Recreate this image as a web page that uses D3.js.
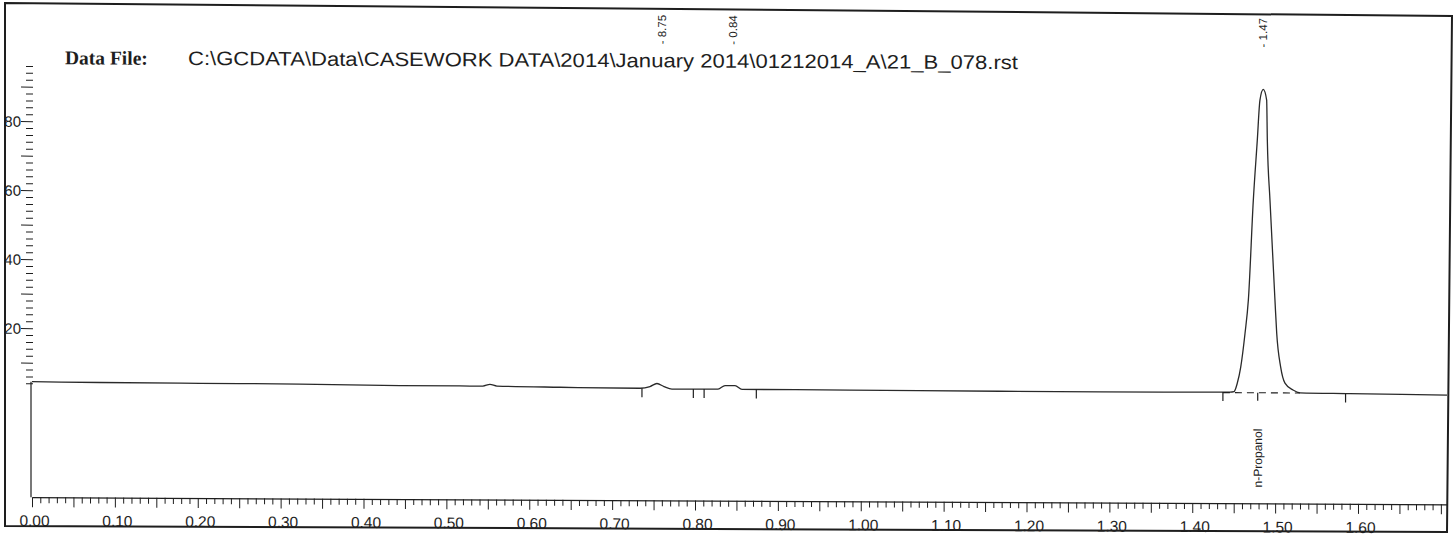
<!DOCTYPE html>
<html>
<head>
<meta charset="utf-8">
<script src="https://cdn.jsdelivr.net/npm/d3@7"></script>
<style>
body { margin: 0; background: #fff; }
</style>
</head>
<body>
<div id="chart-area"></div>
<script>
// chromatogram trace (minutes, signal)
var times = [0.000, 0.082, 0.203, 0.323, 0.444, 0.5285, 0.544, 0.5526, 0.561, 0.637,
    0.7336, 0.7457, 0.7541, 0.7626, 0.7722, 0.8278, 0.8362, 0.8483, 0.8567, 0.987,
    1.168, 1.2887, 1.4456, 1.4504, 1.4544, 1.4585, 1.4637, 1.4677, 1.4737, 1.4785,
    1.4817, 1.4857, 1.4898, 1.4906, 1.4938, 1.4998, 1.5019, 1.5067, 1.5119, 1.5216,
    1.530, 1.590, 1.7074];
var signal = [4.48, 4.35, 4.26, 4.20, 3.91, 3.87, 3.88, 4.39, 3.91, 3.65,
    3.48, 3.99, 4.87, 4.00, 3.29, 3.36, 4.38, 4.40, 3.30, 3.26,
    3.13, 3.10, 3.23, 3.38, 5.86, 10.5, 20.3, 29.9, 58.9, 76.3,
    87.9, 91.0, 87.9, 76.3, 58.9, 29.97, 20.4, 10.55, 5.91, 3.91,
    3.13, 2.97, 2.67];

// integration marks under the baseline
var markerTimes = [0.736, 0.798, 0.811, 0.874, 1.437, 1.585];
var markerLevels = [3.48, 3.33, 3.33, 3.30, 3.22, 2.96];

// peak retention labels on top
var peakTimes = [0.760, 0.846, 1.485];
var peakLabels = ["8.75", "0.84", "1.47"];

// named compound
var compoundTime = 1.479;
var compoundLevel = 3.07;
var compoundName = "n-Propanol";
var dashTimes = [1.437, 1.530];

var xTickLabels = ["0.00", "0.10", "0.20", "0.30", "0.40", "0.50", "0.60", "0.70", "0.80",
    "0.90", "1.00", "1.10", "1.20", "1.30", "1.40", "1.50", "1.60"];
var yTickLabels = [20, 40, 60, 80];

var width = 1456;
var height = 536;
var axisY = 497;
var ink = "#1e1e1e";

var svg = d3.select("#chart-area")
    .append("svg")
    .attr("width", width)
    .attr("height", height);

// page frame (scanned, slightly skewed)
svg.append("polygon")
    .attr("points", "5,3 1452,16 1447,532 5,526")
    .attr("fill", "none")
    .attr("stroke", ink)
    .attr("stroke-width", 2);

var g = svg.append("g")
    .attr("transform", "skewY(0.29)");

var x = d3.scaleLinear().domain([0, 1.7074]).range([32, 1447]);
var y = d3.scaleLinear().domain([0, 80]).range([397, 121]);

// title
var title = g.append("text")
    .attr("x", 65)
    .attr("y", 64)
    .attr("fill", ink);
title.append("tspan")
    .attr("font-family", "Liberation Serif")
    .attr("font-weight", "bold")
    .attr("font-size", "19.5px")
    .text("Data File:");
g.append("text")
    .attr("x", 188)
    .attr("y", 64)
    .attr("font-family", "Liberation Sans")
    .attr("font-size", "19.5px")
    .attr("fill", ink)
    .attr("textLength", 830)
    .attr("lengthAdjust", "spacingAndGlyphs")
    .text("C:\\GCDATA\\Data\\CASEWORK DATA\\2014\\January 2014\\01212014_A\\21_B_078.rst");

// x axis
var xTicks = d3.range(0, 171).map((i) => { return i / 100; });
var xAxisCall = d3.axisBottom(x)
    .tickValues(xTicks)
    .tickSize(6)
    .tickSizeOuter(0)
    .tickFormat((d) => {
        var s = d.toFixed(2);
        return xTickLabels.indexOf(s) >= 0 ? s : "";
    });
var xAxisGroup = g.append("g")
    .attr("class", "x axis")
    .attr("transform", "translate(0, " + axisY + ")")
    .call(xAxisCall);
xAxisGroup.select(".domain").attr("stroke", ink).attr("stroke-width", 1.3);
xAxisGroup.selectAll(".tick line")
    .attr("stroke", ink)
    .attr("y2", (d) => { return Math.round(d * 100) % 5 === 0 ? 10 : 6; });
xAxisGroup.selectAll(".tick text")
    .attr("y", 29)
    .attr("dy", 0)
    .attr("dx", 2)
    .style("font-family", "Liberation Sans")
    .style("font-size", "15.5px")
    .style("fill", ink);

// y axis
var yTicks = d3.range(4, 97, 2);
var yAxisCall = d3.axisLeft(y)
    .tickValues(yTicks)
    .tickSize(7)
    .tickFormat((d) => { return yTickLabels.indexOf(d) >= 0 ? d : ""; });
var yAxisGroup = g.append("g")
    .attr("class", "y axis")
    .attr("transform", "translate(33, 0)")
    .call(yAxisCall);
yAxisGroup.select(".domain").remove();
yAxisGroup.selectAll(".tick line")
    .attr("stroke", ink)
    .attr("x2", (d) => { return d % 10 === 0 ? -12 : -7; });
yAxisGroup.selectAll(".tick text")
    .attr("x", -12)
    .attr("dy", "0.34em")
    .style("font-family", "Liberation Sans")
    .style("font-size", "15px")
    .style("fill", ink);

// start line from trace down to the time axis
g.append("line")
    .attr("x1", 31).attr("x2", 31)
    .attr("y1", y(signal[0]))
    .attr("y2", axisY)
    .attr("stroke", ink)
    .attr("stroke-width", 1.2);

// trace
var line = d3.line()
    .x((d) => { return x(d[0]); })
    .y((d) => { return y(d[1]); })
    .curve(d3.curveMonotoneX);
g.append("path")
    .datum(times.map((t, i) => { return [t, signal[i]]; }))
    .attr("d", line)
    .attr("fill", "none")
    .attr("stroke", "#2a2a2a")
    .attr("stroke-width", 1.3);

// integration marks
g.selectAll(".marker")
    .data(markerTimes)
    .enter().append("line")
    .attr("class", "marker")
    .attr("x1", (d) => { return x(d); })
    .attr("x2", (d) => { return x(d); })
    .attr("y1", (d, i) => { return y(markerLevels[i]); })
    .attr("y2", (d, i) => { return y(markerLevels[i]) + 9; })
    .attr("stroke", ink)
    .attr("stroke-width", 1.2);

// dashed baseline under the big peak, with retention mark
g.append("line")
    .attr("x1", x(dashTimes[0]))
    .attr("x2", x(dashTimes[1]))
    .attr("y1", y(compoundLevel))
    .attr("y2", y(compoundLevel))
    .attr("stroke", ink)
    .attr("stroke-width", 1.1)
    .attr("stroke-dasharray", "7,5");
g.append("line")
    .attr("x1", x(compoundTime))
    .attr("x2", x(compoundTime))
    .attr("y1", y(compoundLevel))
    .attr("y2", y(compoundLevel) + 8)
    .attr("stroke", ink)
    .attr("stroke-width", 1.2);

g.append("text")
    .attr("transform", "translate(" + x(compoundTime) + "," + 481 + ") rotate(-90)")
    .attr("dy", "0.35em")
    .attr("font-family", "Liberation Sans")
    .attr("font-size", "12px")
    .attr("fill", ink)
    .text(compoundName);

// retention time labels
g.selectAll(".rt")
    .data(peakTimes)
    .enter().append("text")
    .attr("class", "rt")
    .attr("transform", (d) => { return "translate(" + x(d) + ",41) rotate(-90)"; })
    .attr("dy", "0.35em")
    .attr("font-family", "Liberation Sans")
    .attr("font-size", "11.5px")
    .attr("fill", ink)
    .text((d, i) => { return "- " + peakLabels[i]; });
</script>
</body>
</html>
